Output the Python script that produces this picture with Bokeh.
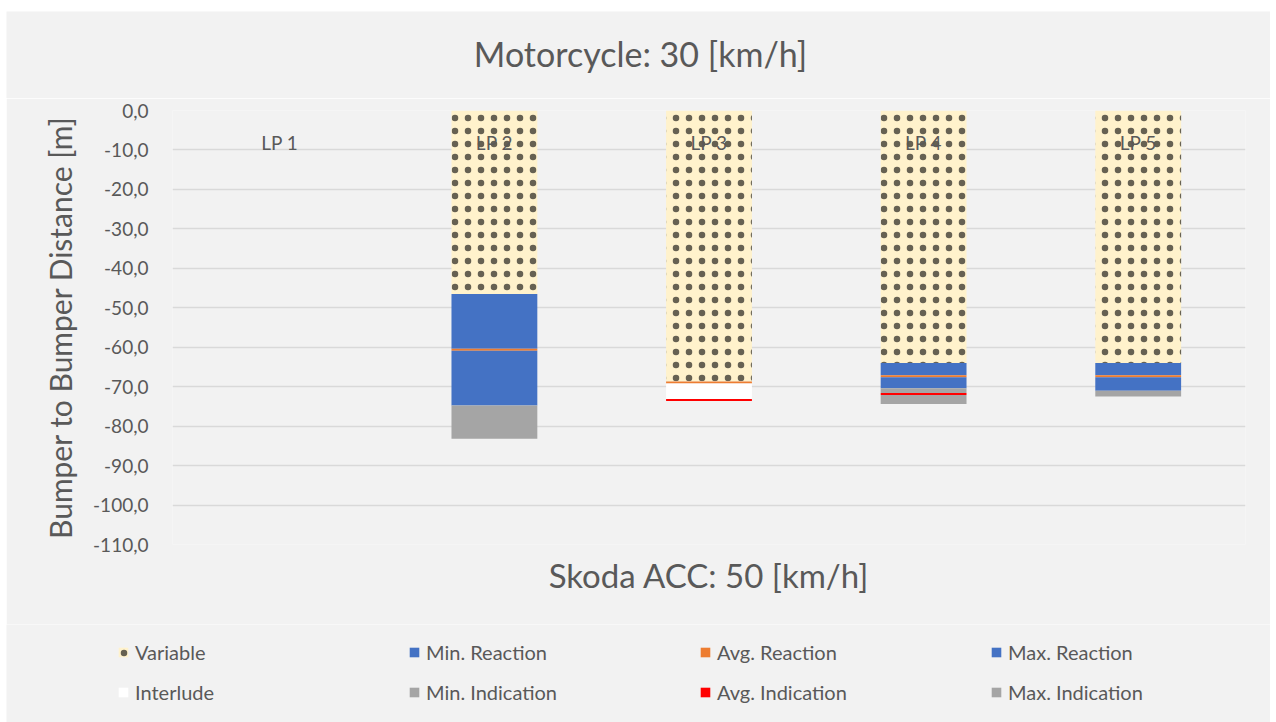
from bokeh.plotting import figure
from bokeh.models import (FactorRange, Range1d, FixedTicker, Legend, LegendItem,
                          ColumnDataSource, Label)
from bokeh.core.properties import value
from bokeh.embed import file_html
from bokeh.resources import INLINE

# ---------------- data ----------------
categories = ["LP 1", "LP 2", "LP 3", "LP 4", "LP 5"]
variable        = [0.0, -46.5, -68.7, -64.0, -64.0]
min_reaction    = [0.0, -13.9,   0.0,  -3.1,  -3.1]
avg_reaction    = [0.0,  -0.5,  -0.5,  -0.5,  -0.5]
max_reaction    = [0.0, -13.9,   0.0,  -2.8,  -3.4]
interlude       = [0.0,   0.0,  -3.9,   0.0,   0.0]
min_indication  = [0.0,  -8.4,   0.0,  -1.2,  -1.5]
avg_indication  = [0.0,   0.0,  -0.5,  -0.5,   0.0]
max_indication  = [0.0,   0.0,   0.0,  -2.3,   0.0]

series_names = ["Variable", "Min. Reaction", "Avg. Reaction", "Max. Reaction",
                "Interlude", "Min. Indication", "Avg. Indication", "Max. Indication"]
series_colors = ["#FFF2CC", "#4472C4", "#ED7D31", "#4472C4",
                 "#FFFFFF", "#A5A5A5", "#FF0000", "#A5A5A5"]

y_ticks = [0, -10, -20, -30, -40, -50, -60, -70, -80, -90, -100, -110]
y_tick_labels = ["0,0", "-10,0", "-20,0", "-30,0", "-40,0", "-50,0", "-60,0",
                 "-70,0", "-80,0", "-90,0", "-100,0", "-110,0"]

title_text = "Motorcycle: 30 [km/h]"
x_title = "Skoda ACC: 50 [km/h]"
y_title = "Bumper to Bumper Distance [m]"

# ---------------- styling ----------------
FONT = "Lato"
TXT = "#595959"
BG = "#F2F2F2"
LABEL_Y = -8
HATCH = dict(hatch_pattern="dot", hatch_color="#000000", hatch_scale=13,
             hatch_alpha=0.6)

series_values = [variable, min_reaction, avg_reaction, max_reaction,
                 interlude, min_indication, avg_indication, max_indication]


def strip(height, margin):
    f = figure(width=1264, height=height, output_backend="svg", toolbar_location=None,
               x_range=Range1d(0, 1), y_range=Range1d(0, 1),
               x_axis_location=None, y_axis_location=None, min_border=0)
    f.margin = margin
    f.background_fill_color = BG
    f.border_fill_color = BG
    f.outline_line_color = None
    f.grid.visible = False
    return f


# ---------------- title strip ----------------
t = strip(87, (11, 0, 0, 6))
t.add_layout(Label(x=634, y=45, x_units="screen", y_units="screen", text=title_text,
                   text_align="center", text_baseline="middle", text_font=FONT,
                   text_font_size="34px", text_color=TXT))

# ---------------- main chart ----------------
p = figure(width=1264, height=526, output_backend="svg", toolbar_location=None,
           x_range=FactorRange(*categories, range_padding=0),
           y_range=Range1d(-110, 0),
           min_border_left=166, min_border_right=25, min_border_top=12,
           min_border_bottom=80)
p.margin = (0, 0, 0, 6)
p.background_fill_color = BG
p.border_fill_color = BG
p.outline_line_color = None

bottoms = [0.0] * len(categories)
for name, col, vals in zip(series_names, series_colors, series_values):
    tops = [b + v for b, v in zip(bottoms, vals)]
    src = ColumnDataSource({"cat": categories, "top": tops, "bottom": bottoms})
    kw = HATCH if name == "Variable" else {}
    p.vbar(x="cat", top="top", bottom="bottom", width=0.4, source=src,
           fill_color=col, line_color=None, **kw)
    bottoms = tops

# category labels inside the plot
p.text(x=categories, y=[LABEL_Y] * len(categories), text=categories,
       text_align="center", text_baseline="middle", text_color=TXT,
       text_font=value(FONT), text_font_size="19px")

p.yaxis.ticker = FixedTicker(ticks=y_ticks)
p.yaxis.major_label_overrides = {t_: l for t_, l in zip(y_ticks, y_tick_labels)}
p.yaxis.axis_line_color = None
p.yaxis.major_tick_line_color = None
p.yaxis.minor_tick_line_color = None
p.yaxis.major_label_standoff = 18
p.yaxis.major_label_text_font = FONT
p.yaxis.major_label_text_font_size = "19px"
p.yaxis.major_label_text_color = TXT
p.yaxis.axis_label = y_title
p.yaxis.axis_label_text_font = FONT
p.yaxis.axis_label_text_font_size = "30px"
p.yaxis.axis_label_text_font_style = "normal"
p.yaxis.axis_label_text_color = TXT
p.yaxis.axis_label_standoff = 12

p.xaxis.axis_line_color = None
p.xaxis.major_tick_line_color = None
p.xaxis.minor_tick_line_color = None
p.xaxis.major_label_text_font_size = "0px"
p.xaxis.major_label_standoff = 0
p.xaxis.axis_label = x_title
p.xaxis.axis_label_text_font = FONT
p.xaxis.axis_label_text_font_size = "33px"
p.xaxis.axis_label_text_font_style = "normal"
p.xaxis.axis_label_text_color = TXT
p.xaxis.axis_label_standoff = 4

p.xgrid.grid_line_color = None
p.ygrid.grid_line_color = "#D9D9D9"
p.ygrid.grid_line_width = 1.5

# ---------------- legend strip (legend proxies only) ----------------
q = strip(98, (0, 0, 0, 6))
items = []
for name, col in zip(series_names, series_colors):
    kw = HATCH if name == "Variable" else {}
    # proxy glyph kept outside the visible range: only its legend swatch is shown
    r = q.vbar(x=[5], top=[5], bottom=[4], width=0.4, fill_color=col,
               line_color=None, **kw)
    items.append(LegendItem(label=name, renderers=[r]))

legend = Legend(items=items, location=(111, 18), orientation="horizontal", ncols=4,
                background_fill_alpha=0, border_line_color=None,
                glyph_width=12, glyph_height=12, label_standoff=6,
                label_width=258, label_height=25, spacing=15, padding=0, margin=0,
                label_text_font=FONT, label_text_font_size="20px",
                label_text_color=TXT)
q.add_layout(legend)

open("out.html", "w").write(file_html([t, p, q], INLINE))
